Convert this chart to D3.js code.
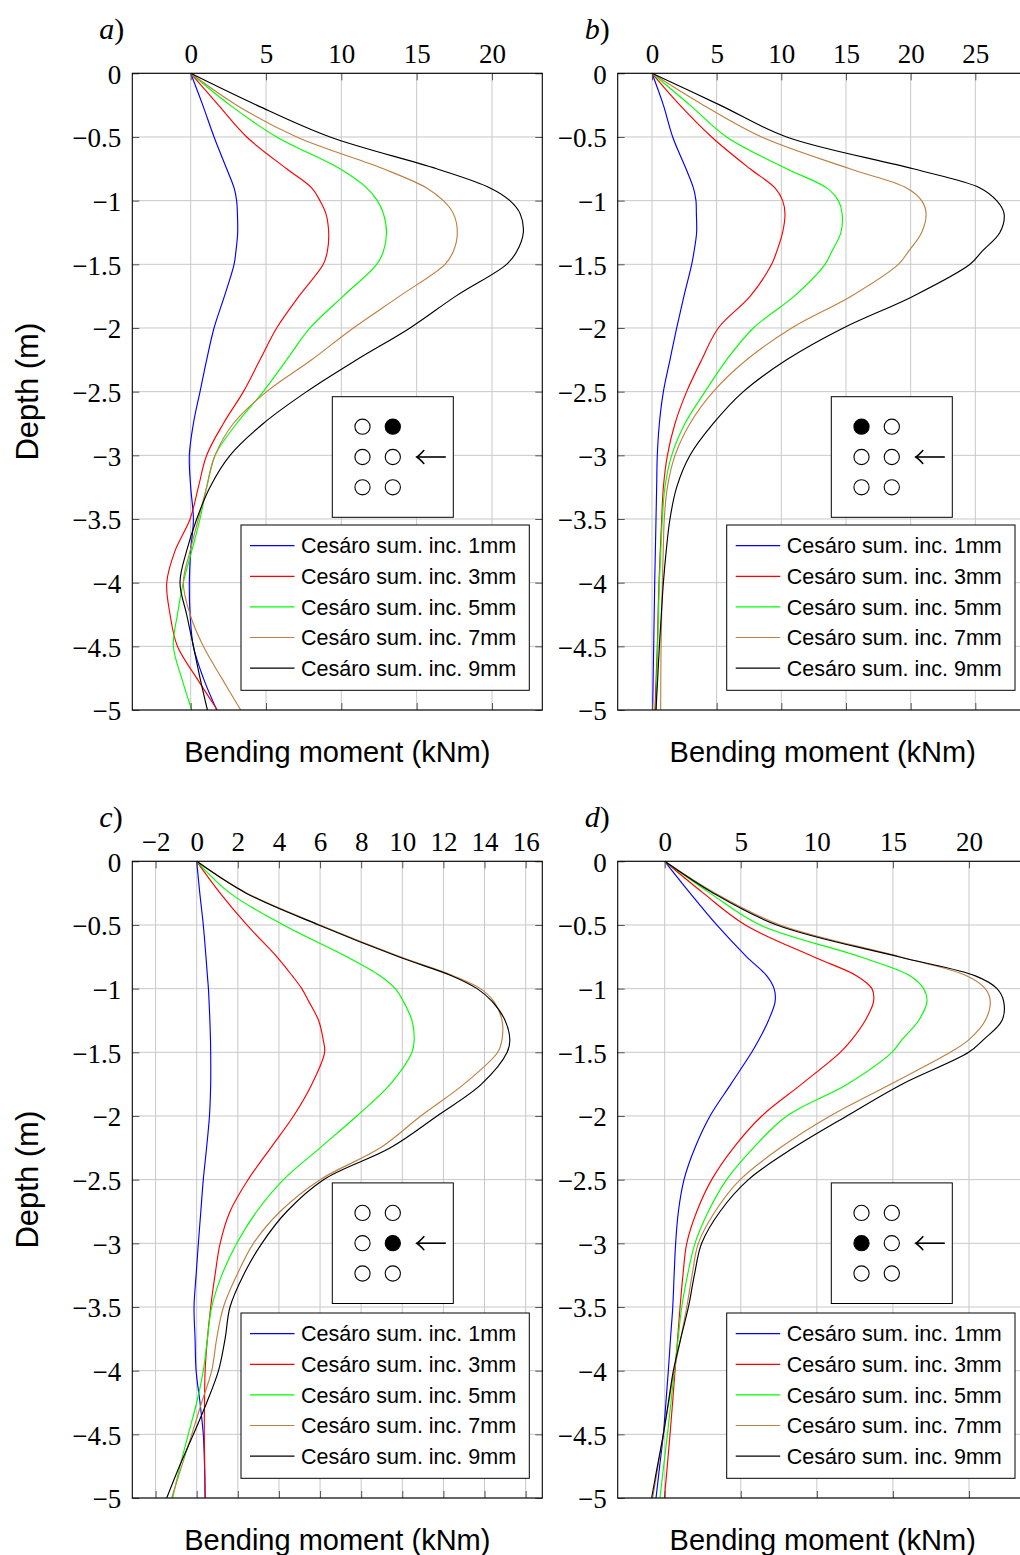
<!DOCTYPE html>
<html>
<head>
<meta charset="utf-8">
<script src="https://cdn.jsdelivr.net/npm/d3@7"></script>
<style>
  html, body { margin: 0; padding: 0; background: #fff; }
  svg { display: block; }
</style>
</head>
<body>
<svg id="chart" width="1020" height="1555"></svg>
<script>
// ---------------- DATA ----------------
const depths = [0,-0.25,-0.5,-0.75,-0.9,-1,-1.1,-1.25,-1.4,-1.5,-1.75,-2,-2.25,-2.5,-2.75,-3,-3.25,-3.5,-3.75,-4,-4.25,-4.5,-4.75,-5];

const seriesLabels = ["Cesáro sum. inc. 1mm","Cesáro sum. inc. 3mm","Cesáro sum. inc. 5mm","Cesáro sum. inc. 7mm","Cesáro sum. inc. 9mm"];
const seriesColors = ["#0000ff","#ff0000","#00ff00","#bf8040","#000000"];

const yTicks = [0,-0.5,-1,-1.5,-2,-2.5,-3,-3.5,-4,-4.5,-5];
const xTicksA = [0,5,10,15,20];
const xTicksB = [0,5,10,15,20,25];
const xTicksC = [-2,0,2,4,6,8,10,12,14,16];
const xTicksD = [0,5,10,15,20];

const momentsA = [
  [0,0.8,1.55,2.39,2.88,3.05,3.1,3.12,3.0,2.88,2.24,1.55,1.06,0.62,0.18,-0.09,0,0.18,0,-0.09,-0.04,0.18,0.84,1.73],
  [0,1.84,3.72,6.37,8.03,8.58,8.97,9.16,9.07,8.8,7.19,5.71,4.6,3.5,2.17,1.06,0.51,-0.04,-1.04,-1.59,-1.37,-0.88,0.4,1.77],
  [0,2.61,5.71,9.91,11.68,12.39,12.79,13.0,12.79,12.35,10.12,7.92,6.37,4.82,3.05,1.62,1.06,0.62,0.07,-0.49,-0.88,-1.15,-0.6,0.07],
  [0,3.05,7.04,12.79,15.66,16.77,17.43,17.7,17.43,16.88,13.87,10.8,8.03,5.04,2.83,1.62,1.06,0.51,-0.04,-0.49,-0.04,0.84,2.06,3.32],
  [0,4.38,9.25,16.33,19.87,21.19,21.86,22.08,21.64,20.97,17.6,14.56,11.02,7.7,4.82,2.61,1.28,0.4,-0.27,-0.71,-0.27,0.18,0.62,1.11]
];
const momentsB = [
  [0,0.88,1.6,2.63,3.2,3.4,3.43,3.45,3.25,3.07,2.47,1.91,1.39,0.88,0.57,0.41,0.36,0.31,0.26,0.21,0.17,0.13,0.09,0.05],
  [0,2.16,4.61,7.58,9.51,10.1,10.28,10.1,9.64,9.25,7.6,5.13,3.84,2.68,1.78,1.19,0.88,0.75,0.64,0.54,0.47,0.41,0.32,0.23],
  [0,2.94,5.77,10.41,13.5,14.41,14.7,14.61,13.9,13.38,11.0,7.84,5.77,4.1,2.55,1.52,1.0,0.8,0.68,0.57,0.5,0.44,0.37,0.31],
  [0,3.97,8.48,15.3,19.69,20.85,21.19,20.85,19.82,19.05,15.4,10.8,7.32,4.74,2.94,1.78,1.19,0.95,0.87,0.8,0.75,0.7,0.68,0.67],
  [0,5.26,10.41,20.2,25.36,26.65,27.22,26.9,25.5,24.59,20.2,14.79,10.41,7.06,4.74,2.94,1.91,1.39,1.1,0.88,0.72,0.57,0.44,0.31]
];
const momentsC = [
  [0,0.15,0.32,0.45,0.52,0.57,0.6,0.64,0.67,0.68,0.68,0.62,0.48,0.32,0.2,0.08,-0.03,-0.13,-0.08,-0.03,0.16,0.32,0.38,0.41],
  [0,1.14,2.44,3.9,4.65,5.11,5.45,5.93,6.15,6.22,5.6,4.71,3.6,2.5,1.62,1.14,0.89,0.68,0.52,0.41,0.38,0.37,0.39,0.41],
  [0,1.62,4.22,7.31,8.93,9.66,10.05,10.47,10.58,10.47,9.42,7.79,6.0,4.22,2.92,1.95,1.22,0.73,0.52,0.32,0,-0.41,-0.81,-1.17],
  [0,2.44,6.0,9.9,12.5,13.8,14.45,14.85,14.85,14.64,13.0,10.9,8.93,6.0,4.06,2.76,1.95,1.3,0.97,0.73,0.24,-0.24,-0.73,-1.22],
  [0,2.4,5.93,9.82,12.42,13.64,14.37,15.0,15.23,15.1,13.85,11.69,9.42,6.17,4.38,3.17,2.27,1.62,1.38,1.06,0.49,-0.16,-0.84,-1.46]
];
const momentsD = [
  [0,1.67,3.42,5.39,6.71,7.19,7.26,6.82,6.2,5.72,4.35,2.98,1.99,1.27,0.9,0.72,0.62,0.53,0.38,0.24,0.08,-0.09,-0.33,-0.57],
  [0,2.54,5.3,9.78,12.63,13.62,13.73,13.18,12.3,11.54,9.0,6.38,4.52,3.09,2.11,1.45,1.2,1.01,0.85,0.68,0.52,0.35,0.17,-0.02],
  [0,2.98,6.27,12.85,16.14,17.02,17.24,16.69,15.6,14.93,12.0,8.03,5.83,4.07,2.87,1.99,1.5,1.12,0.88,0.64,0.41,0.18,-0.07,-0.31],
  [0,3.31,7.59,15.48,19.87,21.07,21.4,21.07,20.0,18.77,14.85,10.87,7.59,4.96,3.31,2.21,1.8,1.45,1.05,0.62,0.27,-0.09,-0.44,-0.79],
  [0,3.2,7.37,15.37,20.42,21.84,22.28,22.17,20.96,19.98,15.6,11.97,8.47,5.5,3.64,2.43,1.95,1.56,1.05,0.57,0.24,-0.09,-0.48,-0.86]
];

const panelLetters = ["a","b","c","d"];
const xTitle = "Bending moment (kNm)";
const yTitle = "Depth (m)";

// ---------------- LAYOUT ----------------
const panels = [
  { letter: panelLetters[0], data: momentsA, xTicks: xTicksA, left: 132.3, top: 73.3,  xDomain: [-3.876, 23.34], filled: [0,1], insetDX: 200.0, insetDY: 323.4, legendDX: 108.7, showY: true },
  { letter: panelLetters[1], data: momentsB, xTicks: xTicksB, left: 617.7, top: 73.3,  xDomain: [-2.652, 29.05], filled: [0,0], insetDX: 213.6, insetDY: 323.4, legendDX: 109.0, showY: false },
  { letter: panelLetters[2], data: momentsC, xTicks: xTicksC, left: 132.3, top: 861.3, xDomain: [-3.133, 16.81], filled: [1,1], insetDX: 200.0, insetDY: 321.6, legendDX: 108.7, showY: true },
  { letter: panelLetters[3], data: momentsD, xTicks: xTicksD, left: 617.7, top: 861.3, xDomain: [-3.089, 23.86], filled: [1,0], insetDX: 213.6, insetDY: 321.6, legendDX: 109.0, showY: false }
];
const W = 410, H = 636.7;
const serif = "'Liberation Serif', 'Times New Roman', serif";
const sans = "'Liberation Sans', Arial, Helvetica, sans-serif";

const svg = d3.select("#chart");
svg.append("rect").attr("width", 1020).attr("height", 1555).attr("fill", "#fff");

const fmt = d => d === 0 ? "0" : (d < 0 ? "\u2212" : "") + Math.abs(d);

panels.forEach((p, pi) => {
  const x = d3.scaleLinear().domain(p.xDomain).range([p.left, p.left + W]);
  const y = d3.scaleLinear().domain([-5, 0]).range([p.top + H, p.top]);
  const g = svg.append("g");

  // grid
  const grid = g.append("g").attr("stroke", "#c8c8c8").attr("stroke-width", 1);
  p.xTicks.forEach(t => grid.append("line").attr("x1", x(t)).attr("x2", x(t)).attr("y1", p.top).attr("y2", p.top + H));
  yTicks.forEach(t => grid.append("line").attr("x1", p.left).attr("x2", p.left + W).attr("y1", y(t)).attr("y2", y(t)));

  // curves
  const clipId = "clip" + pi;
  g.append("clipPath").attr("id", clipId).append("rect")
    .attr("x", p.left).attr("y", p.top - 1).attr("width", W).attr("height", H + 2);
  const line = d3.line()
    .x(d => x(d[0])).y(d => y(d[1]))
    .curve(d3.curveCatmullRom.alpha(0.5));
  const cg = g.append("g").attr("clip-path", `url(#${clipId})`);
  p.data.forEach((vals, si) => {
    const pts = vals.map((v, i) => [v, depths[i]]);
    cg.append("path").attr("d", line(pts)).attr("fill", "none")
      .attr("stroke", seriesColors[si]).attr("stroke-width", 1.15);
  });

  // axes (inward ticks)
  const styleAxis = (ax, labels) => {
    ax.select(".domain").remove();
    ax.attr("font-family", null).attr("font-size", null);
    ax.selectAll(".tick line").attr("stroke", "#555").attr("stroke-width", 1);
    ax.selectAll(".tick text").attr("font-family", serif).attr("font-size", 27).attr("fill", "#000");
    if (!labels) ax.selectAll(".tick text").remove();
  };
  const axTop = g.append("g").attr("transform", `translate(0,${p.top})`)
    .call(d3.axisTop(x).tickValues(p.xTicks).tickSize(-7).tickPadding(10).tickFormat(fmt));
  styleAxis(axTop, true);
  const axBot = g.append("g").attr("transform", `translate(0,${p.top + H})`)
    .call(d3.axisBottom(x).tickValues(p.xTicks).tickSize(-7).tickFormat(""));
  styleAxis(axBot, false);
  const axLeft = g.append("g").attr("transform", `translate(${p.left},0)`)
    .call(d3.axisLeft(y).tickValues(yTicks).tickSize(-7).tickPadding(11).tickFormat(fmt));
  styleAxis(axLeft, true);
  axLeft.selectAll(".tick text").attr("dy", "0.36em");
  const axRight = g.append("g").attr("transform", `translate(${p.left + W},0)`)
    .call(d3.axisRight(y).tickValues(yTicks).tickSize(-7).tickFormat(""));
  styleAxis(axRight, false);

  // frame
  g.append("rect").attr("x", p.left).attr("y", p.top).attr("width", W).attr("height", H)
    .attr("fill", "none").attr("stroke", "#000").attr("stroke-width", 1.1);

  // inset (pile group diagram)
  const ix = p.left + p.insetDX, iy = p.top + p.insetDY;
  const ig = g.append("g");
  ig.append("rect").attr("x", ix).attr("y", iy).attr("width", 121).attr("height", 120.6)
    .attr("fill", "#fff").attr("stroke", "#000").attr("stroke-width", 1);
  for (let r = 0; r < 3; r++) {
    for (let c = 0; c < 2; c++) {
      const isF = p.filled[0] === r && p.filled[1] === c;
      ig.append("circle").attr("cx", ix + 30.2 + c * 30.3).attr("cy", iy + 30 + r * 30.3).attr("r", 7.6)
        .attr("fill", isF ? "#000" : "#fff").attr("stroke", "#000").attr("stroke-width", 1.1);
    }
  }
  const ay = iy + 60.3;
  ig.append("line").attr("x1", ix + 113.5).attr("x2", ix + 84.5).attr("y1", ay).attr("y2", ay)
    .attr("stroke", "#000").attr("stroke-width", 1.6);
  ig.append("path").attr("d", `M${ix + 91.5},${ay - 6.5} Q${ix + 87},${ay - 1.5} ${ix + 84.5},${ay} Q${ix + 87},${ay + 1.5} ${ix + 91.5},${ay + 6.5}`)
    .attr("fill", "none").attr("stroke", "#000").attr("stroke-width", 1.6).attr("stroke-linecap", "round");

  // legend
  const lx = p.left + p.legendDX, ly = p.top + 451.7;
  const lg = g.append("g");
  lg.append("rect").attr("x", lx).attr("y", ly).attr("width", 288.3).attr("height", 165.3)
    .attr("fill", "#fff").attr("stroke", "#000").attr("stroke-width", 1);
  seriesLabels.forEach((lab, si) => {
    const ry = ly + 20.7 + si * 30.6;
    lg.append("line").attr("x1", lx + 9).attr("x2", lx + 53.5).attr("y1", ry).attr("y2", ry)
      .attr("stroke", seriesColors[si]).attr("stroke-width", 1.2);
    lg.append("text").attr("x", lx + 60).attr("y", ry + 7.6)
      .attr("font-family", sans).attr("font-size", 21.5).attr("fill", "#000").text(lab);
  });

  // panel letter
  const pl = g.append("text").attr("x", p.left - 33).attr("y", p.top - 34)
    .attr("font-family", serif).attr("font-size", 30).attr("fill", "#000");
  pl.append("tspan").attr("font-style", "italic").text(p.letter);
  pl.append("tspan").text(")");

  // axis titles
  g.append("text").attr("x", p.left + W / 2).attr("y", p.top + H + 51.5)
    .attr("text-anchor", "middle").attr("font-family", sans).attr("font-size", 29).attr("fill", "#000")
    .text(xTitle);
  if (p.showY) {
    g.append("text").attr("transform", `translate(38,${p.top + H / 2}) rotate(-90)`)
      .attr("text-anchor", "middle").attr("font-family", sans).attr("font-size", 31).attr("fill", "#000")
      .text(yTitle);
  }
});
</script>
</body>
</html>
